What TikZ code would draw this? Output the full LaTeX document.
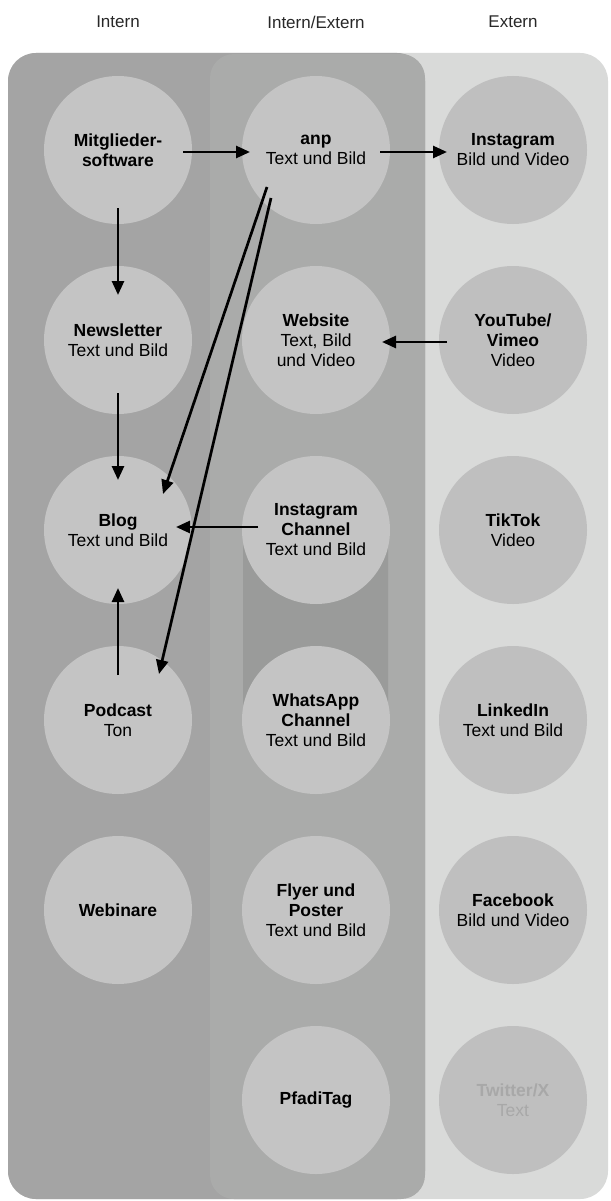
\documentclass[tikz,border=0pt]{standalone}
\usepackage{fontspec}
\setmainfont{Liberation Sans}
\usetikzlibrary{arrows.meta,calc}
\definecolor{bgext}{RGB}{217,218,217}
\definecolor{bgint}{RGB}{164,164,164}
\definecolor{bgmid}{RGB}{170,171,170}
\definecolor{bginner}{RGB}{154,155,154}
\definecolor{circint}{RGB}{196,196,196}
\definecolor{circext}{RGB}{191,191,191}
\definecolor{hdrtext}{RGB}{40,40,40}
\definecolor{fadedtext}{RGB}{168,168,168}
\begin{document}
\begin{tikzpicture}[x=1pt,y=-1pt,
  hdr/.style={font=\fontsize{17}{20}\selectfont, text=hdrtext},
  circ/.style={circle, fill=circint, minimum size=148pt, inner sep=0pt, align=center,
    font=\fontsize{17.5}{20}\selectfont, text=black},
  circx/.style={circ, fill=circext},
  arr/.style={line width=2.7pt, black, -{Triangle[length=14pt,width=12pt]}}]
\useasboundingbox (0,0) rectangle (610,1201);
\fill[white] (0,0) rectangle (610,1201);
\fill[bgext, rounded corners=28pt] (8,53) rectangle (608,1199);
\fill[bgint, rounded corners=28pt] (8,53) rectangle (425,1199);
\fill[bgmid, rounded corners=24pt] (210,54) rectangle (425,1199);
\fill[bginner, rounded corners=20pt] (243,530) rectangle (388,720);

\node[hdr] (h1) at (118,22) {Intern};
\node[hdr] (h2) at (316,22) {Intern/Extern};
\node[hdr] (h3) at (513,22) {Extern};

% Intern column
\node[circ] (m) at (118,150) {{\bfseries Mitglieder-}\\{\bfseries software}};
\node[circ] (nl) at (118,340) {{\bfseries Newsletter}\\Text und Bild};
\node[circ] (blog) at (118,530) {{\bfseries Blog}\\Text und Bild};
\node[circ] (pod) at (118,720) {{\bfseries Podcast}\\Ton};
\node[circ] (web) at (118,910) {{\bfseries Webinare}};

% Intern/Extern column
\node[circ] (anp) at (316,150) {{\bfseries anp}\\Text und Bild};
\node[circ] (site) at (316,340) {{\bfseries Website}\\Text, Bild\\und Video};
\node[circ] (igc) at (316,530) {{\bfseries Instagram}\\{\bfseries Channel}\\Text und Bild};
\node[circ] (wac) at (316,720) {{\bfseries WhatsApp}\\{\bfseries Channel}\\Text und Bild};
\node[circ] (fly) at (316,910) {{\bfseries Flyer und}\\{\bfseries Poster}\\Text und Bild};
\node[circ] (pfa) at (316,1100) {{\bfseries PfadiTag}};

% Extern column
\node[circx] (ig) at (513,150) {{\bfseries Instagram}\\Bild und Video};
\node[circx] (yt) at (513,340) {{\bfseries YouTube/}\\{\bfseries Vimeo}\\Video};
\node[circx] (tt) at (513,530) {{\bfseries TikTok}\\Video};
\node[circx] (li) at (513,720) {{\bfseries LinkedIn}\\Text und Bild};
\node[circx] (fb) at (513,910) {{\bfseries Facebook}\\Bild und Video};
\node[circx, text=fadedtext] (tw) at (513,1100) {{\bfseries Twitter/X}\\Text};

% Arrows
\draw[arr] ($(m.center)+(65,2)$) -- ($(anp.center)+(-66,2)$);
\draw[arr] ($(anp.center)+(64,2)$) -- ($(ig.center)+(-66,2)$);
\draw[arr] ($(m.center)+(0,58)$) -- ($(nl.center)+(0,-45)$);
\draw[arr] ($(nl.center)+(0,53)$) -- ($(blog.center)+(0,-50)$);
\draw[arr] ($(pod.center)+(0,-45)$) -- ($(blog.center)+(0,58)$);
\draw[arr] ($(igc.center)+(-58,-3)$) -- ($(blog.center)+(58,-3)$);
\draw[arr] ($(yt.center)+(-66,2)$) -- ($(site.center)+(66,2)$);
\draw[arr] ($(anp.center)+(-49,37)$) -- ($(blog.center)+(45,-36)$);
\draw[arr] ($(anp.center)+(-45,48)$) -- ($(pod.center)+(41,-46)$);
\end{tikzpicture}
\end{document}
